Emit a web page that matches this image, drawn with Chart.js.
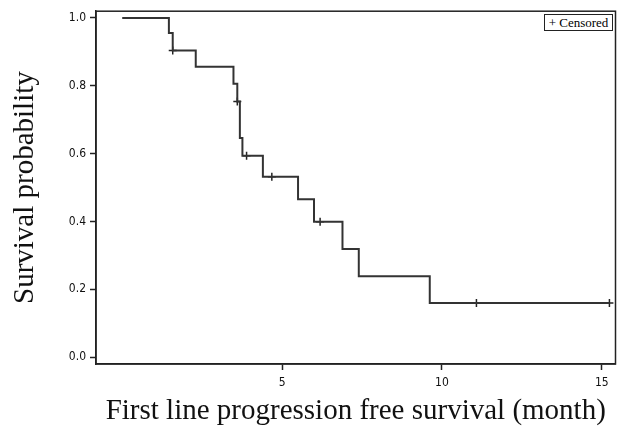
<!DOCTYPE html>
<html>
<head>
<meta charset="utf-8">
<script src="https://cdn.jsdelivr.net/npm/chart.js@4/dist/chart.umd.min.js"></script>
<style>
  html, body { margin: 0; padding: 0; background: #fff; }
  #wrap { position: relative; width: 621px; height: 433px; }
  #legend {
    position: absolute; left: 544px; top: 14px; width: 67px; height: 15px;
    border: 1px solid #222; font-family: 'Liberation Serif', serif; font-size: 13px;
    line-height: 15px; text-align: center; color: #000; background: #fff; white-space: nowrap;
  }
</style>
</head>
<body>
<div id="wrap">
  <canvas id="c" width="621" height="433"></canvas>
  <div id="legend">+ Censored</div>
</div>
<script>
// ---- data ----
const eventTimes = [0, 1.46, 1.58, 2.30, 3.48, 3.60, 3.68, 3.76, 4.40, 5.50, 6.00, 6.89, 7.40, 9.62, 15.24];
const survival   = [1.0, 0.956, 0.904, 0.856, 0.806, 0.754, 0.646, 0.594, 0.532, 0.466, 0.399, 0.319, 0.239, 0.160, 0.160];
const censorTimes    = [1.58, 3.60, 3.89, 4.68, 6.19, 11.08, 15.24];
const censorSurvival = [0.904, 0.754, 0.594, 0.532, 0.399, 0.160, 0.160];
const xTicks = [5, 10, 15];
const yTicks = [0.0, 0.2, 0.4, 0.6, 0.8, 1.0];
const xTitle = 'First line progression free survival (month)';
const yTitle = 'Survival probability';
const legendLabel = '+ Censored';

document.getElementById('legend').textContent = legendLabel;

const tickFont = { family: "'Liberation Sans Narrow', 'DejaVu Sans Condensed', sans-serif", size: 12 };
const titleFont = { family: "'Liberation Serif', 'Times New Roman', serif", size: 29 };
const ink = '#222';

const framePlugin = {
  id: 'frame',
  afterDatasetsDraw(chart) {
    const a = chart.chartArea, ctx = chart.ctx;
    ctx.save();
    ctx.strokeStyle = ink;
    ctx.lineWidth = 1.5;
    ctx.strokeRect(a.left, a.top, a.right - a.left, a.bottom - a.top);
    ctx.restore();
  }
};

new Chart(document.getElementById('c'), {
  type: 'line',
  data: {
    datasets: [
      {
        label: 'Survival',
        data: eventTimes.map((t, i) => ({ x: t, y: survival[i] })),
        stepped: 'before',
        borderColor: '#333',
        borderWidth: 2,
        pointRadius: 0,
        fill: false
      },
      {
        label: 'Censored',
        type: 'scatter',
        data: censorTimes.map((t, i) => ({ x: t, y: censorSurvival[i] })),
        pointStyle: 'cross',
        pointRadius: 4,
        borderColor: ink,
        borderWidth: 1.5,
        showLine: false
      }
    ]
  },
  options: {
    responsive: false,
    animation: false,
    layout: { padding: { top: 10, right: 5, left: 0, bottom: 0 } },
    plugins: { legend: { display: false }, tooltip: { enabled: false } },
    scales: {
      x: {
        type: 'linear',
        min: -0.82, max: 15.43,
        afterBuildTicks: s => { s.ticks = xTicks.map(v => ({ value: v })); },
        afterFit: s => { s.height = 69; },
        grid: { display: true, drawOnChartArea: false, drawTicks: true, tickLength: 6, color: ink, tickWidth: 1.5 },
        border: { display: true, color: ink, width: 1.5 },
        ticks: { font: tickFont, color: '#111', padding: 6, maxRotation: 0, callback: v => String(v) },
        title: { display: true, text: xTitle, font: titleFont, color: '#111', padding: { top: 0, bottom: 4 } }
      },
      y: {
        type: 'linear',
        min: -0.02, max: 1.02,
        afterBuildTicks: s => { s.ticks = yTicks.map(v => ({ value: v })); },
        afterFit: s => { s.width = 96; },
        grid: { display: true, drawOnChartArea: false, drawTicks: true, tickLength: 6, color: ink, tickWidth: 1.5 },
        border: { display: true, color: ink, width: 1.5 },
        ticks: { font: tickFont, color: '#111', padding: 4, callback: v => Number(v).toFixed(1) },
        title: { display: true, text: yTitle, font: titleFont, color: '#111', padding: { top: 8, bottom: 0 } }
      }
    }
  },
  plugins: [framePlugin]
});
</script>
</body>
</html>
